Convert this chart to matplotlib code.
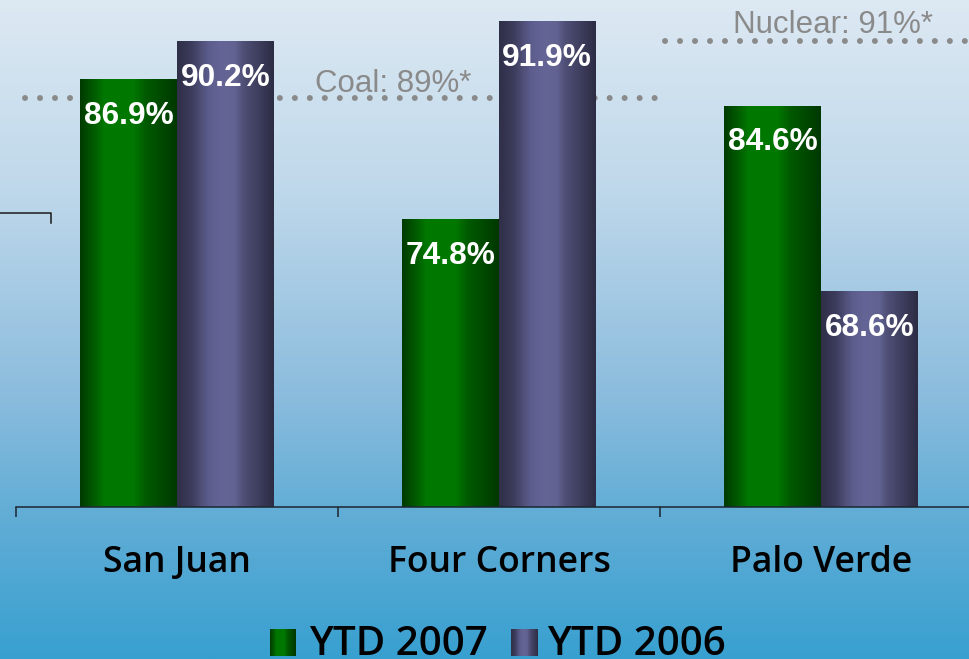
import numpy as np
import matplotlib
matplotlib.use("Agg")
import matplotlib.pyplot as plt
from matplotlib.colors import LinearSegmentedColormap
from matplotlib.lines import Line2D

plants = ["San Juan", "Four Corners", "Palo Verde"]
ytd_2007 = [86.9, 74.8, 84.6]
ytd_2006 = [90.2, 91.9, 68.6]
series_names = ["YTD 2007", "YTD 2006"]
coal_label = "Coal: 89%*"
nuclear_label = "Nuclear: 91%*"
# where the dotted benchmark lines sit on the slide
coal_level = 85.3
nuclear_level = 90.3

W, H = 969, 659
YMIN, YMAX = 50, 93.8

fig = plt.figure(figsize=(W / 100, H / 100), dpi=100)

# vertical background gradient
bg = fig.add_axes([0, 0, 1, 1], zorder=0)
bg_cmap = LinearSegmentedColormap.from_list(
    "bg", [(0, "#dde9f3"), (0.3, "#bdd7ea"), (0.6, "#8bbcdd"),
           (0.77, "#64aed6"), (1, "#38a0d0")])
bg.imshow(np.linspace(0, 1, 256)[:, None], cmap=bg_cmap, aspect="auto",
          extent=[0, 1, 0, 1])
bg.axis("off")

green_cmap = LinearSegmentedColormap.from_list(
    "g", [(0, "#003a00"), (0.18, "#006400"), (0.25, "#007800"),
          (0.55, "#007800"), (0.68, "#005a00"), (1, "#003800")])
purple_cmap = LinearSegmentedColormap.from_list(
    "p", [(0, "#2f2f48"), (0.15, "#3c3c5c"), (0.32, "#5c5c8c"),
          (0.45, "#646496"), (0.6, "#626292"), (0.68, "#505078"),
          (1, "#2c2c44")])
row = np.linspace(0, 1, 256)[None, :]

ax = fig.add_axes([16 / W, 1 - 507 / H, 966 / W, 507 / H], zorder=1)
ax.patch.set_alpha(0)

x = np.arange(len(plants))
bw = 0.30
b1 = ax.bar(x - bw / 2, ytd_2007, bw, color="none")
b2 = ax.bar(x + bw / 2, ytd_2006, bw, color="none")

for bars, cmap in ((b1, green_cmap), (b2, purple_cmap)):
    for p in bars:
        x0, w, h = p.get_x(), p.get_width(), p.get_height()
        ax.imshow(row, cmap=cmap, aspect="auto",
                  extent=[x0, x0 + w, YMIN, h], zorder=2)
        ax.annotate(f"{h:.1f}%", (x0 + w / 2, h), xytext=(0, -44 * 0.72),
                    textcoords="offset points", ha="center", va="baseline",
                    color="white", fontsize=22.8, fontweight="bold",
                    family="Liberation Sans", zorder=3)

# benchmark dotted lines
dot = dict(color="#8a8a8a", lw=4.3, linestyle=(0, (0.01, 2.5)),
           dash_capstyle="round", zorder=1.5)
ax.plot([-0.472, 1.494], [coal_level] * 2, **dot)
ax.plot([1.515, 2.5], [nuclear_level] * 2, **dot)
ax.text(0.43, 85.85, coal_label, color="#8a8a8a", fontsize=22.5,
        family="Liberation Sans", ha="left", va="baseline", zorder=1.5)
ax.text(1.727, 90.95, nuclear_label, color="#8a8a8a", fontsize=22.5,
        family="Liberation Sans", ha="left", va="baseline", zorder=1.5)

ax.set_xlim(-0.5, 2.5)
ax.set_ylim(YMIN, YMAX)
for s in ("top", "left", "right"):
    ax.spines[s].set_visible(False)
axis_col = "#1c2630"
ax.spines["bottom"].set_color(axis_col)
ax.spines["bottom"].set_linewidth(1.1)
ax.set_xticks([-0.5, 0.5, 1.5, 2.5])
ax.set_xticklabels([])
ax.tick_params(axis="x", length=7.2, width=1.1, color=axis_col, direction="out")
ax.set_yticks([])

for xi, name in zip(x, plants):
    ax.text(xi, -65 / 507, name, transform=ax.get_xaxis_transform(),
            ha="center", va="baseline", fontsize=25.6, family="Open Sans",
            fontweight="semibold", color="black")

# legend drawn by hand so the swatches keep the gradient
for (sx, tx), name, cmap in zip(((270, 309), (511, 547)), series_names,
                                (green_cmap, purple_cmap)):
    sw = fig.add_axes([sx / W, 3 / H, 26 / W, 27 / H], zorder=2)
    sw.imshow(row, cmap=cmap, aspect="auto")
    sw.axis("off")
    fig.text(tx / W, 4 / H, name, ha="left", va="baseline", fontsize=29,
             family="Open Sans", fontweight="semibold", color="black")

# leftover connector stub at the left edge
fig.add_artist(Line2D([0, 51 / W, 51 / W],
                      [1 - 212.5 / H, 1 - 212.5 / H, 1 - 223 / H],
                      color="#1a1a1a", lw=1.1, transform=fig.transFigure))

fig.savefig("out.png", dpi=100)
